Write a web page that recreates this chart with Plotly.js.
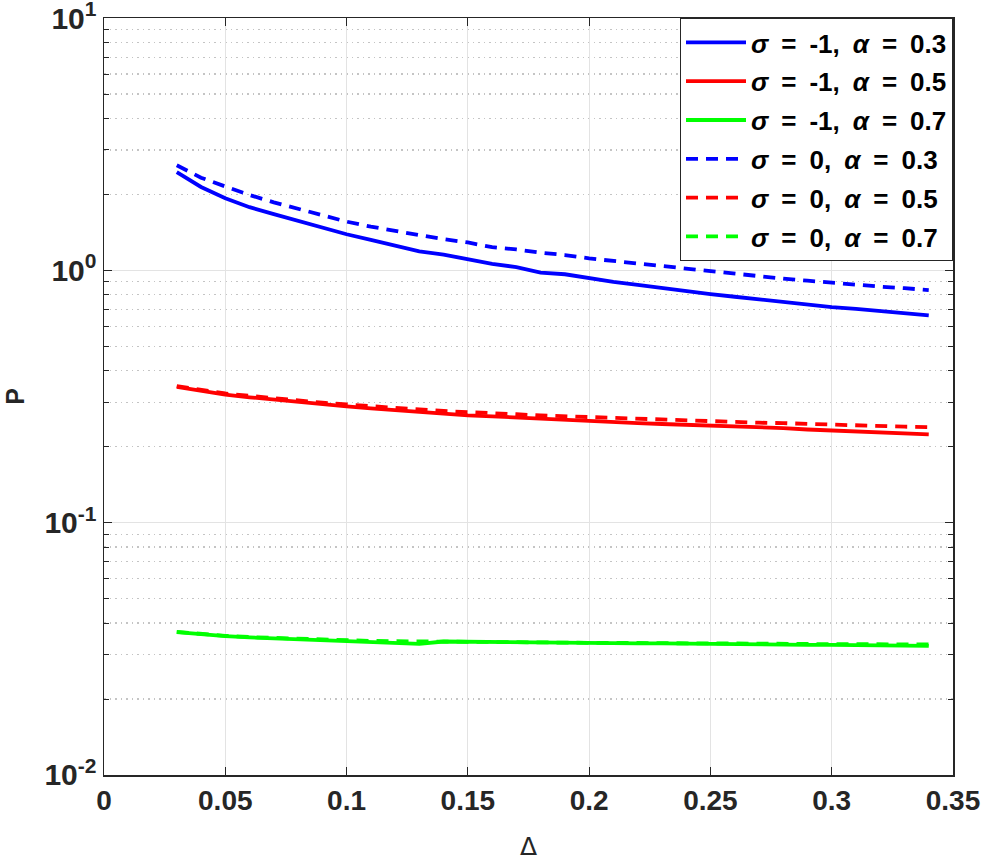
<!DOCTYPE html>
<html>
<head>
<meta charset="utf-8">
<script src="https://cdn.plot.ly/plotly-3.0.1.min.js"></script>
<style>html,body{margin:0;padding:0;background:#fff;}#chart{width:985px;height:862px;}</style>
</head>
<body>
<div id="chart"></div>
<script>
const delta = [0.03,0.04,0.05,0.06,0.07,0.08,0.09,0.10,0.11,0.12,0.13,0.14,0.15,0.16,0.17,0.18,0.19,0.20,0.21,0.22,0.23,0.24,0.25,0.26,0.27,0.28,0.29,0.30,0.31,0.32,0.33,0.34];

const sigmaM1_a03 = [2.45,2.14,1.93,1.78,1.67,1.57,1.48,1.39,1.32,1.25,1.19,1.155,1.11,1.06,1.03,0.98,0.965,0.93,0.90,0.875,0.85,0.826,0.805,0.786,0.768,0.748,0.727,0.715,0.703,0.688,0.675,0.663];
const sigmaM1_a05 = [0.345,0.332,0.322,0.314,0.307,0.301,0.295,0.289,0.284,0.279,0.275,0.270,0.266,0.264,0.261,0.258,0.255,0.252,0.250,0.248,0.246,0.2445,0.243,0.241,0.239,0.237,0.234,0.232,0.230,0.228,0.226,0.224];
const sigmaM1_a07 = [0.0368,0.0361,0.0355,0.0351,0.0348,0.0345,0.0343,0.0340,0.0338,0.0334,0.0331,0.0338,0.0337,0.0336,0.0335,0.0334,0.0334,0.0333,0.0333,0.0332,0.0332,0.0331,0.0331,0.0330,0.0330,0.0329,0.0328,0.0328,0.0327,0.0326,0.0326,0.0325];
const sigma0_a03 = [2.61,2.33,2.15,1.99,1.86,1.75,1.65,1.56,1.49,1.43,1.38,1.33,1.29,1.235,1.21,1.175,1.15,1.115,1.09,1.065,1.035,1.01,0.99,0.97,0.95,0.927,0.91,0.892,0.875,0.862,0.85,0.835];
const sigma0_a05 = [0.348,0.335,0.325,0.318,0.311,0.305,0.299,0.294,0.289,0.285,0.281,0.277,0.275,0.272,0.269,0.266,0.264,0.261,0.259,0.257,0.256,0.254,0.253,0.251,0.249,0.248,0.246,0.245,0.243,0.242,0.240,0.239];
const sigma0_a07 = [0.0369,0.0362,0.0356,0.0352,0.0349,0.0346,0.0344,0.0342,0.0340,0.0339,0.0338,0.0338,0.0337,0.0337,0.0336,0.0335,0.0335,0.0334,0.0334,0.0333,0.0333,0.0333,0.0332,0.0332,0.0331,0.0331,0.0330,0.0330,0.0330,0.0329,0.0329,0.0329];

const S = '\u2002';
const seriesNames = [
  '<i>σ</i>'+S+'='+S+'-1,'+S+'<i>α</i>'+S+'='+S+'0.3',
  '<i>σ</i>'+S+'='+S+'-1,'+S+'<i>α</i>'+S+'='+S+'0.5',
  '<i>σ</i>'+S+'='+S+'-1,'+S+'<i>α</i>'+S+'='+S+'0.7',
  '<i>σ</i>'+S+'='+S+'0,'+S+'<i>α</i>'+S+'='+S+'0.3',
  '<i>σ</i>'+S+'='+S+'0,'+S+'<i>α</i>'+S+'='+S+'0.5',
  '<i>σ</i>'+S+'='+S+'0,'+S+'<i>α</i>'+S+'='+S+'0.7'
];
const seriesData = [sigmaM1_a03, sigmaM1_a05, sigmaM1_a07, sigma0_a03, sigma0_a05, sigma0_a07];
const colors = ['#0000ff','#ff0000','#00ff00','#0000ff','#ff0000','#00ff00'];
const dashes = ['solid','solid','solid','12px,8px','12px,8px','12px,8px'];

const xTickVals = [0,0.05,0.1,0.15,0.2,0.25,0.3,0.35];
const xTickText = ['0','0.05','0.1','0.15','0.2','0.25','0.3','0.35'];
const yTickVals = [0.01,0.1,1,10];
const yTickText = ['10<sup>-2</sup>','10<sup>-1</sup>','10<sup>0</sup>','10<sup>1</sup>'];

const minorY = [];
for (let e = -2; e < 1; e++) { for (let m = 2; m <= 9; m++) minorY.push(m * Math.pow(10, e)); }

const traces = seriesData.map((ys, i) => ({
  x: delta, y: ys, type: 'scatter', mode: 'lines', name: seriesNames[i],
  legendgroup: 'g' + i,
  line: {color: colors[i], width: 3.8, dash: dashes[i]}
}));

const FONT = 'Liberation Sans, Arial, Helvetica, sans-serif';

const layout = {
  width: 985, height: 862,
  margin: {l: 104, r: 32, t: 18, b: 87},
  paper_bgcolor: '#fff', plot_bgcolor: '#fff',
  font: {family: FONT, color: '#262626'},
  showlegend: true,
  legend: {
    x: 1, xanchor: 'right', y: 1, yanchor: 'top',
    bgcolor: '#fff', bordercolor: '#262626', borderwidth: 1,
    font: {family: FONT, size: 26, color: '#000', weight: 'bold'},
    itemwidth: 60, traceorder: 'grouped', tracegroupgap: 2
  },
  xaxis: {
    range: [0, 0.35], tickvals: xTickVals, ticktext: xTickText,
    ticks: 'inside', ticklen: 8, tickcolor: '#262626', tickwidth: 1,
    showline: true, linecolor: '#262626', linewidth: 1.5, mirror: 'ticks',
    showgrid: true, gridcolor: '#e3e3e3', gridwidth: 1,
    zeroline: false, ticklabeloverflow: 'allow',
    tickfont: {family: FONT, size: 28, color: '#262626', weight: 'bold'},
    title: {text: 'Δ', font: {family: 'DejaVu Sans, sans-serif', size: 25, color: '#262626'}, standoff: 22}
  },
  yaxis: {
    type: 'log', range: [-2.0002, 1.0002], tickvals: yTickVals, ticktext: yTickText,
    ticks: 'inside', ticklen: 8, tickcolor: '#262626', tickwidth: 1,
    showline: true, linecolor: '#262626', linewidth: 1.5, mirror: 'ticks',
    showgrid: true, gridcolor: '#e3e3e3', gridwidth: 1,
    zeroline: false, ticklabeloverflow: 'allow',
    tickfont: {family: FONT, size: 30, color: '#262626', weight: 'bold'},
    minor: {tickvals: minorY, ticks: 'inside', ticklen: 5, tickcolor: '#262626', showgrid: true, gridcolor: '#c4c4c4', griddash: '1.5px,4px', gridwidth: 1.2},
    title: {text: 'P', font: {family: FONT, size: 25, color: '#262626', weight: 'bold'}, standoff: 12}
  }
};

Plotly.newPlot('chart', traces, layout, {displayModeBar: false, staticPlot: true});
</script>
</body>
</html>
